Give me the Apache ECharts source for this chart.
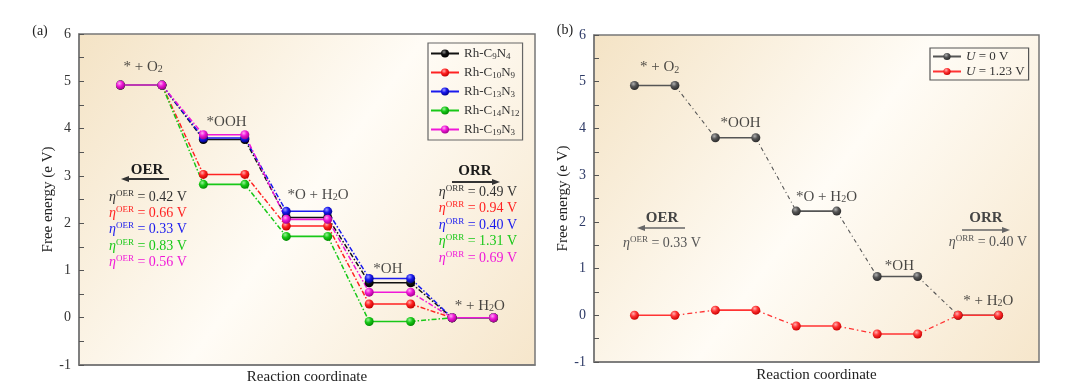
<!DOCTYPE html>
<html><head><meta charset="utf-8">
<script src="https://cdn.jsdelivr.net/npm/echarts@6/dist/echarts.min.js"></script>
<style>html,body{margin:0;padding:0;background:#fff}#c{width:1080px;height:390px}</style>
</head><body><div id="c"></div>
<script>
// ---------- data ----------
const stepNames = ['* + O{s|2}', '*OOH', '*O + H{s|2}O', '*OH', '* + H{s|2}O'];
const materials = ['Rh-C9N4', 'Rh-C10N9', 'Rh-C13N3', 'Rh-C14N12', 'Rh-C19N3'];
const rhC9N4   = [4.92, 3.77, 2.12, 0.74, 0];
const rhC10N9  = [4.92, 3.03, 1.94, 0.29, 0];
const rhC13N3  = [4.92, 3.80, 2.25, 0.83, 0];
const rhC14N12 = [4.92, 2.82, 1.72, -0.08, 0];
const rhC19N3  = [4.92, 3.87, 2.08, 0.54, 0];
const etaOER = [0.42, 0.66, 0.33, 0.83, 0.56];
const etaORR = [0.49, 0.94, 0.40, 1.31, 0.69];
const potentials = ['U = 0 V', 'U = 1.23 V'];
const u0   = [4.92, 3.80, 2.23, 0.83, 0];
const u123 = [0, 0.11, -0.23, -0.40, 0];
const etaOERb = [0.33];
const etaORRb = [0.40];

// ---------- styles ----------
const SERIF = '"Liberation Serif","DejaVu Serif",serif';
const colA = [
  {c:'#111111', l:'#8a8a8a', d:'#000000'},
  {c:'#ff2222', l:'#ffaaaa', d:'#c00000'},
  {c:'#1a1aee', l:'#9a9aff', d:'#00008a'},
  {c:'#18c818', l:'#9af09a', d:'#008a00'},
  {c:'#f018d8', l:'#ffa8f4', d:'#a0008c'}
];
const colB = [
  {c:'#555555', l:'#b0b0b0', d:'#2a2a2a'},
  {c:'#ff3333', l:'#ffb0b0', d:'#c80000'}
];
function sphere(k){
  return new echarts.graphic.RadialGradient(0.38, 0.32, 0.7, [
    {offset:0, color:k.l}, {offset:0.45, color:k.c}, {offset:1, color:k.d}]);
}
function levelData(v){
  const out = [];
  v.forEach((y,i)=>{ out.push([2*i+1, y]); out.push([2*i+2, y]); if(i<v.length-1) out.push([2*i+2.5, '-']); });
  return out;
}
function connData(v){
  const out = [];
  for(let i=0;i<v.length-1;i++){ out.push([2*i+2, v[i]]); out.push([2*i+3, v[i+1]]); out.push([2*i+3, '-']); }
  return out;
}
function makeSeries(name, vals, k, gi, lw, dash, dw){
  return [
    {name: name+' conn', type:'line', xAxisIndex:gi, yAxisIndex:gi, data:connData(vals), symbol:'none',
     lineStyle:{color:k.c, width:dw, type:dash}, z:2, silent:true, animation:false},
    {name: name, type:'line', xAxisIndex:gi, yAxisIndex:gi, data:levelData(vals), symbol:'circle', symbolSize:9,
     showSymbol:true, connectNulls:false, lineStyle:{color:k.c, width:lw}, itemStyle:{color:sphere(k)}, z:3, animation:false}
  ];
}
const seriesA = [rhC9N4, rhC10N9, rhC13N3, rhC14N12, rhC19N3];
let series = [];
seriesA.forEach((v,i)=>{ series = series.concat(makeSeries(materials[i], v, colA[i], 0, 1.6, [5,2,1.5,2], 1.5)); });
series = series.concat(makeSeries(potentials[0], u0, colB[0], 1, 1.6, [4,3,1,3], 1.1));
series = series.concat(makeSeries(potentials[1], u123, colB[1], 1, 1.6, [5,3,1.5,3], 1.3));

// step label anchors (computed from data) with pixel offsets
const offA = [[2,-18],[2.5,-13],[11,-16],[-2,-9],[7,-12]];
const offB = [[5,-18],[5,-15],[10,-14],[2,-10],[10,-14]];
function stepLabelSeries(gi, sets, offs){
  const data = stepNames.map((n,i)=>{
    const top = Math.max.apply(null, sets.map(s=>s[i]));
    return {value:[2*i+1.5, top], name:n, label:{offset:offs[i]}};
  });
  return {type:'scatter', xAxisIndex:gi, yAxisIndex:gi, symbolSize:1, itemStyle:{color:'rgba(0,0,0,0)'}, silent:true, z:5,
    data, label:{show:true, position:'inside', formatter:p=>p.name, color:'#1a1a1a', fontFamily:SERIF, fontSize:15,
      rich:{s:{fontSize:10, fontFamily:SERIF, color:'#1a1a1a', verticalAlign:'bottom', lineHeight:10}}}, animation:false};
}
series.push(stepLabelSeries(0, seriesA, offA));
series.push(stepLabelSeries(1, [u0], offB));

// ---------- axes ----------
function yAxis(gi, labelColor, gap){
  return {type:'value', gridIndex:gi, min:-1, max:6, interval:0.5,
    name:'Free energy (e V)', nameLocation:'middle', nameGap:gap, nameRotate:90,
    nameTextStyle:{fontFamily:SERIF, fontSize:15, color:'#222'},
    axisLine:{show:true, lineStyle:{color:'#777', width:1.5}},
    axisTick:{show:true, inside:true, length:5, lineStyle:{color:'#555', width:1}},
    splitLine:{show:false},
    axisLabel:{fontFamily:SERIF, fontSize:14, color:labelColor, margin:8,
      formatter:v=> (Math.abs(v - Math.round(v)) < 1e-6 ? String(Math.round(v)) : '')}};
}
function xAxis(gi, gap){
  return {type:'value', gridIndex:gi, min:0, max:11,
    name:'Reaction coordinate', nameLocation:'middle', nameGap:gap,
    nameTextStyle:{fontFamily:SERIF, fontSize:15, color:'#222'},
    axisLine:{show:true, onZero:false, lineStyle:{color:'#777', width:1.5}}, axisTick:{show:false}, axisLabel:{show:false}, splitLine:{show:false}};
}
function bg(){
  return new echarts.graphic.LinearGradient(0,0,1,1,[
    {offset:0, color:'#f4e3c5'}, {offset:0.5, color:'#fffcf6'}, {offset:1, color:'#f6e6cb'}]);
}

// ---------- annotation graphics ----------
const graphics = [];
function txt(x,y,text,fill,font,rich){
  graphics.push({type:'text', x, y, z:10, silent:true, style:{text, fill, font, align:'center', verticalAlign:'middle', rich}});
}
function arrow(x1,x2,y,col,w){
  graphics.push({type:'line', z:10, silent:true, shape:{x1, y1:y, x2: x2 + (x2>x1?-6:6), y2:y}, style:{stroke:col, lineWidth:w}});
  const d = x2>x1?-1:1;
  graphics.push({type:'polygon', z:10, silent:true, shape:{points:[[x2,y],[x2+d*8,y-3],[x2+d*8,y+3]]}, style:{fill:col}});
}
function etaRich(col){
  return {
    e:{fontFamily:SERIF, fontSize:14, fontStyle:'italic', fill:col, lineHeight:16, verticalAlign:'middle'},
    p:{fontFamily:SERIF, fontSize:9, fill:col, lineHeight:9, verticalAlign:'top'},
    t:{fontFamily:SERIF, fontSize:14, fill:col, lineHeight:16, verticalAlign:'middle'}
  };
}
txt(40, 31, '(a)', '#222', '14px '+SERIF);
txt(565, 30, '(b)', '#222', '14px '+SERIF);
// panel a
txt(147, 170, 'OER', '#1a1a1a', 'bold 15px '+SERIF);
arrow(169, 121, 179, '#333', 2);
txt(475, 171, 'ORR', '#1a1a1a', 'bold 15px '+SERIF);
arrow(452, 500, 182, '#333', 2);
const yOER = [197, 213, 229, 246, 262];
const yORR = [192, 208, 225, 241, 258];
etaOER.forEach((v,i)=>{ const c = i===0?'#333':colA[i].c; txt(148, yOER[i], '{e|η}{p|OER}{t| = '+v.toFixed(2)+' V}', c, '14px '+SERIF, etaRich(c)); });
etaORR.forEach((v,i)=>{ const c = i===0?'#333':colA[i].c; txt(478, yORR[i], '{e|η}{p|ORR}{t| = '+v.toFixed(2)+' V}', c, '14px '+SERIF, etaRich(c)); });
// panel b
txt(662, 218, 'OER', '#444', 'bold 15px '+SERIF);
arrow(685, 637, 228, '#666', 1.5);
txt(662, 243, '{e|η}{p|OER}{t| = '+etaOERb[0].toFixed(2)+' V}', '#555', '14px '+SERIF, etaRich('#555'));
txt(986, 218, 'ORR', '#444', 'bold 15px '+SERIF);
arrow(962, 1010, 230, '#666', 1.5);
txt(988, 242, '{e|η}{p|ORR}{t| = '+etaORRb[0].toFixed(2)+' V}', '#555', '14px '+SERIF, etaRich('#555'));

const option = {
  backgroundColor:'#ffffff',
  animation:false,
  grid:[
    {left:79, top:34, width:456, height:336, show:true, backgroundColor:bg(), borderColor:'#777', borderWidth:1.5},
    {left:594, top:35, width:445, height:327, show:true, backgroundColor:bg(), borderColor:'#777', borderWidth:1.5}
  ],
  xAxis:[xAxis(0, 5), xAxis(1, 6)],
  yAxis:[yAxis(0, '#333', 21), yAxis(1, '#2d3a66', 19)],
  legend:[
    {data:materials, left:428, top:43, orient:'vertical', itemGap:4, itemWidth:28, itemHeight:10,
     padding:[3,3,3,2], borderColor:'#666', borderWidth:1.2, selectedMode:false,
     formatter:n=>n.replace(/(\d+)/g,'{s|$1}'),
     textStyle:{fontFamily:SERIF, fontSize:13, color:'#333', lineHeight:15,
       rich:{s:{fontFamily:SERIF, fontSize:9, color:'#333', verticalAlign:'bottom', lineHeight:9}}}},
    {data:potentials, left:930, top:48, orient:'vertical', itemGap:2, itemWidth:28, itemHeight:9,
     padding:[2,4,2,2], borderColor:'#555', borderWidth:1.2, selectedMode:false,
     formatter:n=>n.replace('U','{i|U}'),
     textStyle:{fontFamily:SERIF, fontSize:13, color:'#333',
       rich:{i:{fontFamily:SERIF, fontSize:13, fontStyle:'italic', color:'#333'}}}}
  ],
  graphic:{elements:graphics},
  series
};
const chart = echarts.init(document.getElementById('c'), null, {renderer:'canvas'});
chart.setOption(option);
</script></body></html>
